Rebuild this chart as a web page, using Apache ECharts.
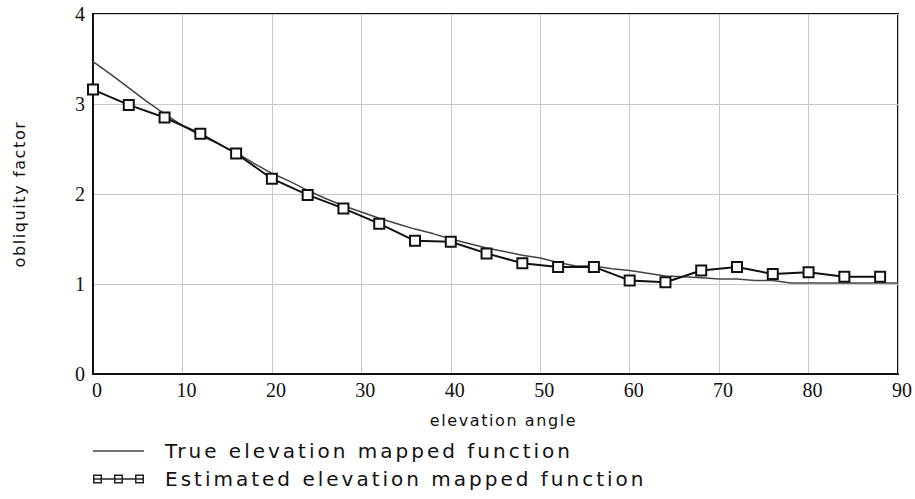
<!DOCTYPE html>
<html>
<head>
<meta charset="utf-8">
<script src="https://cdn.jsdelivr.net/npm/echarts@6/dist/echarts.min.js"></script>
<style>
  html, body { margin: 0; padding: 0; background: #fff; }
  #chart { width: 915px; height: 499px; }
  /* the sans labels in the original are widely spaced */
  #chart text[style*="DejaVu"] { letter-spacing: 0.15em; }
  #chart text[style*="sans-serif"] { letter-spacing: 0.1em; }
</style>
</head>
<body>
<div id="chart"></div>
<script>
// true curve, sampled every 2 degrees
const trueAngles = [0, 2, 4, 6, 8, 10, 12, 14, 16, 18, 20, 22, 24, 26, 28, 30, 32, 34, 36, 38, 40, 42, 44,
  46, 48, 50, 52, 54, 56, 58, 60, 62, 64, 66, 68, 70, 72, 74, 76, 78, 80, 82, 84, 86, 88, 90]
const trueValues = [3.47, 3.33, 3.18, 3.03, 2.89, 2.76, 2.65, 2.56, 2.46, 2.34, 2.23, 2.14, 2.04, 1.95, 1.87,
  1.80, 1.73, 1.67, 1.61, 1.56, 1.50, 1.45, 1.40, 1.36, 1.32, 1.29, 1.24, 1.20, 1.20, 1.17, 1.15, 1.12,
  1.09, 1.08, 1.07, 1.055, 1.055, 1.04, 1.04, 1.01, 1.01, 1.01, 1.01, 1.01, 1.01, 1.01]

// estimated points, every 4 degrees
const estAngles = [0, 4, 8, 12, 16, 20, 24, 28, 32, 36, 40, 44, 48, 52, 56, 60, 64, 68, 72, 76, 80, 84, 88]
const estValues = [3.16, 2.99, 2.85, 2.67, 2.45, 2.17, 1.99, 1.84, 1.67, 1.48, 1.47, 1.34, 1.23, 1.19, 1.19,
  1.04, 1.02, 1.15, 1.19, 1.11, 1.13, 1.08, 1.08]

const seriesNames = ['True elevation mapped function', 'Estimated elevation mapped function']
const xAxisName = 'elevation angle'
const yAxisName = 'obliquity factor'

const legendFont = 'DejaVu Sans'
const nameFont = "'DejaVu Sans', sans-serif"
const serifFont = 'Liberation Serif'

// legend icon: three little squares on a line
function rectPath(x, y, w, h) {
  return `M${x} ${y}L${x + w} ${y}L${x + w} ${y + h}L${x} ${y + h}Z`
}
function boxesIcon() {
  const t = 1.5, s = 9
  let p = rectPath(0, 3.75, 51, t)
  ;[0, 21, 42].forEach(x0 => {
    p += rectPath(x0, 0, s, t) + rectPath(x0, s - t, s, t)
    p += rectPath(x0, 0, t, s) + rectPath(x0 + s - t, 0, t, s)
  })
  return 'path://' + p
}

const chart = echarts.init(document.getElementById('chart'), null, { renderer: 'svg' })

const option = {
  backgroundColor: '#fff',
  animation: false,
  grid: {
    left: 93, right: 15, top: 14, bottom: 125,
    show: true,
    borderColor: '#111',
    borderWidth: 2
  },
  legend: {
    orient: 'vertical',
    left: 93,
    top: 441,
    height: 60,
    padding: 0,
    itemWidth: 51,
    itemHeight: 9,
    itemGap: 8,
    textStyle: { fontFamily: legendFont, fontSize: 20, color: '#111', padding: [0, 0, 0, 16] },
    data: [
      { name: seriesNames[0], icon: 'path://M0 0L51 0L51 1.5L0 1.5Z', itemStyle: { color: '#444', borderWidth: 0 } },
      { name: seriesNames[1], icon: boxesIcon(), itemStyle: { color: '#222', borderWidth: 0 } }
    ]
  },
  xAxis: {
    type: 'value',
    min: 0, max: 90, interval: 10,
    name: xAxisName,
    nameLocation: 'middle',
    nameGap: 38,
    nameTextStyle: { fontFamily: nameFont, fontSize: 16, color: '#111', padding: [0, 0, 0, 16] },
    axisLine: { show: true, lineStyle: { color: '#111', width: 2 } },
    axisTick: { show: false },
    axisLabel: { fontFamily: serifFont, fontSize: 20, color: '#111', margin: 6, padding: [0, 0, 0, 8] },
    splitLine: { show: true, lineStyle: { color: '#c8c8c8', width: 1 } }
  },
  yAxis: {
    type: 'value',
    min: 0, max: 4, interval: 1,
    name: yAxisName,
    nameLocation: 'middle',
    nameGap: 66,
    nameTextStyle: { fontFamily: nameFont, fontSize: 16, color: '#111' },
    axisLine: { show: true, lineStyle: { color: '#111', width: 2 } },
    axisTick: { show: false },
    axisLabel: { fontFamily: serifFont, fontSize: 20, color: '#111', margin: 8 },
    splitLine: { show: true, lineStyle: { color: '#c8c8c8', width: 1 } }
  },
  series: [
    {
      name: seriesNames[0],
      type: 'line',
      data: trueAngles.map((a, i) => [a, trueValues[i]]),
      symbol: 'none',
      lineStyle: { color: '#444', width: 1.5 },
      itemStyle: { color: '#444' }
    },
    {
      name: seriesNames[1],
      type: 'line',
      data: estAngles.map((a, i) => [a, estValues[i]]),
      symbol: 'rect',
      symbolSize: 10,
      lineStyle: { color: '#111', width: 2 },
      itemStyle: { color: '#fff', borderColor: '#111', borderWidth: 2 }
    }
  ]
}

chart.setOption(option)
</script>
</body>
</html>
